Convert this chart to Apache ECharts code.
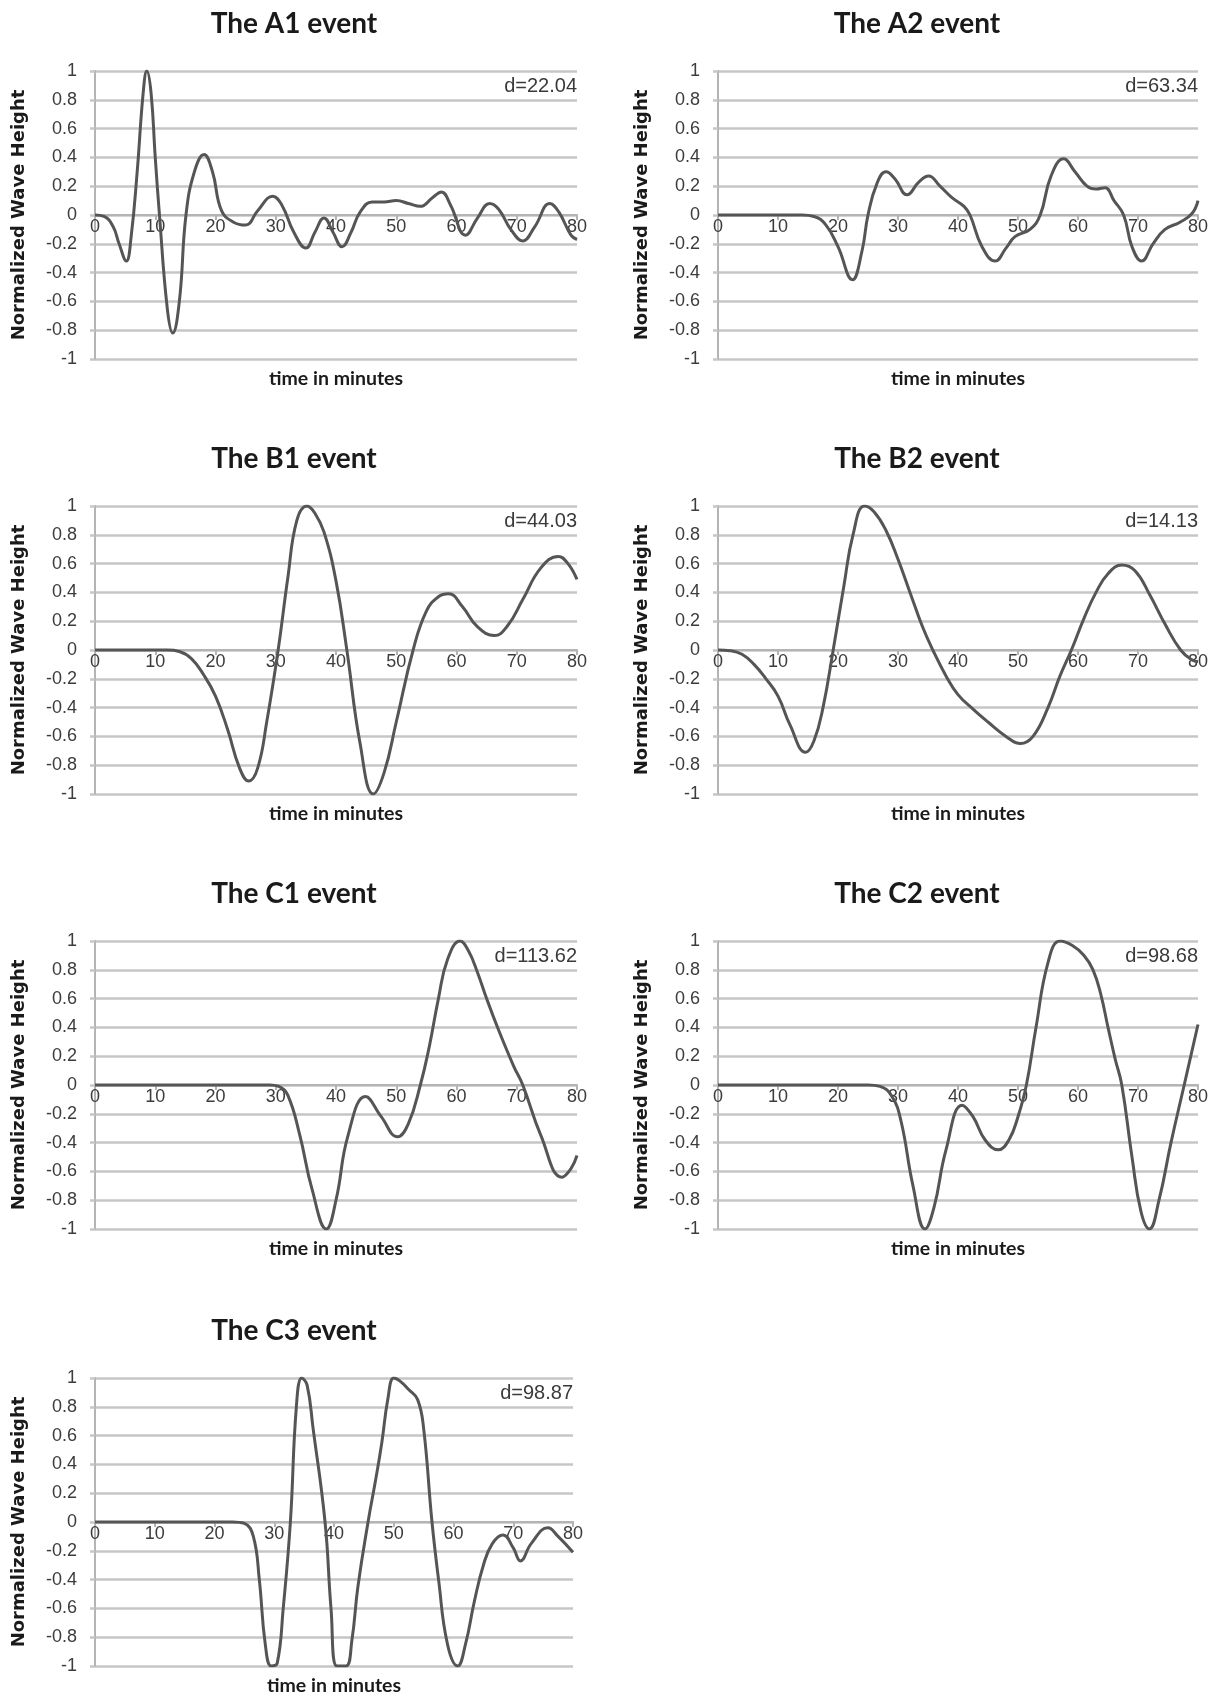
<!DOCTYPE html>
<html>
<head>
<meta charset="utf-8">
<script src="https://cdn.jsdelivr.net/npm/echarts@6/dist/echarts.min.js"></script>
<style>
html,body{margin:0;padding:0;background:#fff;}
#chart{width:1222px;height:1697px;}
</style>
</head>
<body>
<div id="chart"></div>
<script>
// ---- data: [time in minutes, normalized wave height] ----
const A1 = [[0,0],[1.5,-0.01],[3,-0.08],[4,-0.2],[5.2,-0.32],[6,-0.15],[7,0.3],[8,0.85],[8.6,1.0],[9.3,0.85],[10,0.4],[10.7,0],[12,-0.65],[12.9,-0.82],[14,-0.6],[15.1,0],[16.5,0.3],[18.1,0.42],[19.5,0.3],[21,0.03],[23,-0.05],[25,-0.07],[27,0.03],[29.5,0.13],[31,0.07],[33,-0.12],[35,-0.23],[36.5,-0.12],[38,-0.02],[39.5,-0.12],[41,-0.22],[42.5,-0.12],[44,0.02],[46,0.09],[48,0.09],[50,0.1],[52,0.08],[54,0.06],[56,0.12],[57.5,0.16],[59,0.07],[61.5,-0.14],[63.5,-0.02],[65.5,0.08],[67,0.04],[69,-0.1],[71,-0.18],[73,-0.08],[75.5,0.08],[77,0.02],[79,-0.14],[80,-0.17]];
const A2 = [[0,0],[14,0],[16,-0.01],[18,-0.07],[20,-0.22],[22.4,-0.45],[24,-0.25],[25,0],[26.5,0.22],[28,0.3],[29.5,0.25],[31.5,0.14],[33.5,0.23],[35.1,0.27],[37,0.2],[39,0.12],[41,0.06],[42,0],[44,-0.22],[46.2,-0.32],[48,-0.23],[49.5,-0.15],[52,-0.1],[53.7,0],[55.5,0.27],[57.6,0.39],[59.5,0.3],[61.5,0.2],[63,0.18],[64.5,0.19],[66,0.1],[67.6,0],[69,-0.22],[70.6,-0.32],[72.5,-0.2],[74.5,-0.1],[77,-0.05],[79,0.01],[80,0.1]];
const B1 = [[0,0],[12,0],[14,-0.01],[16,-0.06],[18,-0.17],[20,-0.32],[22,-0.55],[24,-0.82],[25.5,-0.91],[27,-0.82],[28.5,-0.5],[30.4,0],[32,0.5],[33.5,0.9],[35.2,1.0],[36.5,0.95],[38,0.82],[40,0.48],[41.8,0],[44,-0.65],[46.2,-1.0],[48,-0.85],[50,-0.5],[52.8,0],[55,0.27],[57,0.37],[58.7,0.39],[61,0.3],[63.5,0.16],[66.3,0.1],[68.5,0.17],[71,0.35],[74,0.57],[76.9,0.65],[78.5,0.6],[80,0.49]];
const B2 = [[0,0],[2,-0.005],[4,-0.03],[6,-0.1],[8,-0.2],[10,-0.32],[12,-0.52],[14.6,-0.71],[16,-0.63],[17.5,-0.4],[19.2,0],[21,0.45],[22.5,0.8],[24.4,1.0],[26,0.96],[28,0.83],[30,0.63],[32,0.4],[34,0.17],[35.8,0],[38,-0.18],[40,-0.31],[42.5,-0.41],[45,-0.5],[48,-0.6],[50.4,-0.65],[52.5,-0.6],[55,-0.4],[57,-0.18],[58.9,0],[61,0.22],[63,0.4],[65,0.53],[67.3,0.59],[69.5,0.55],[72,0.38],[74.5,0.18],[77.1,0],[79,-0.07],[80,-0.08]];
const C1 = [[0,0],[29,0],[30.5,-0.01],[32,-0.07],[34,-0.35],[36,-0.72],[38.4,-1.0],[40,-0.8],[42,-0.35],[44.9,-0.08],[47.5,-0.22],[50.2,-0.36],[52,-0.27],[54,0],[55.5,0.27],[57,0.6],[58.5,0.87],[60.6,1.0],[62,0.93],[63.5,0.78],[65,0.6],[67,0.38],[69.5,0.13],[71,0],[74,-0.35],[77.5,-0.64],[79,-0.58],[80,-0.49]];
const C2 = [[0,0],[25,0],[27,-0.01],[29,-0.08],[30.5,-0.25],[32.5,-0.7],[34.5,-1.0],[36,-0.85],[38,-0.45],[40.7,-0.14],[42.5,-0.22],[44.5,-0.38],[46.7,-0.45],[48.5,-0.38],[50,-0.22],[51.4,0],[53,0.4],[55,0.85],[57,1.0],[59,0.97],[61,0.9],[62.5,0.8],[63.8,0.63],[65,0.4],[66.2,0.18],[67.3,0],[69,-0.5],[70.5,-0.88],[71.9,-1.0],[73.5,-0.8],[75.5,-0.4],[77.7,0],[80,0.42]];
const C3 = [[0,0],[23,0],[25,-0.01],[26.5,-0.1],[27.5,-0.4],[28.5,-0.85],[29.5,-1.0],[30.5,-0.98],[31.5,-0.6],[32.7,0],[33.7,0.8],[34.6,1.0],[35.5,0.95],[36.5,0.65],[38.5,0],[39.5,-0.6],[40.5,-1.0],[42,-1.0],[43,-0.82],[44,-0.45],[45.7,0],[47,0.3],[48,0.55],[49,0.85],[50,1.0],[51,0.98],[52.5,0.92],[54,0.85],[55,0.65],[56.4,0],[57.5,-0.4],[59,-0.85],[60.7,-1.0],[62,-0.85],[63.5,-0.55],[65,-0.3],[66.5,-0.15],[68.3,-0.09],[70,-0.18],[71.2,-0.27],[73,-0.15],[75.8,-0.04],[77.5,-0.1],[80,-0.21]];

const eventNames = ['A1','A2','B1','B2','C1','C2','C3'];
const distances = ['d=22.04','d=63.34','d=44.03','d=14.13','d=113.62','d=98.68','d=98.87'];
const seriesData = [A1,A2,B1,B2,C1,C2,C3];
const xTicks = {min:0, max:80, interval:10};
const yTicks = {min:-1, max:1, interval:0.2};
const yAxisTitle = 'Normalized Wave Height';
const xAxisTitle = 'time in minutes';

// ---- layout ----
const colLeft = [95, 718];
const colWidth = [482, 480];
const rowTop = [71, 506, 941, 1378];
const plotH = 288;

const grids = [], xAxes = [], yAxes = [], series = [], graphics = [];
const LINE = '#555555', GRID = '#c6c6c6', AXIS = '#b4b4b4', TXT = '#3c3c3c';

seriesData.forEach((d, i) => {
  const col = i % 2, row = Math.floor(i / 2);
  const left = colLeft[col];
  const width = (i === 6) ? 478 : colWidth[col];
  const top = rowTop[row];
  grids.push({left: left, top: top, width: width, height: plotH, containLabel: false});
  xAxes.push({
    gridIndex: i, type: 'value', min: xTicks.min, max: xTicks.max, interval: xTicks.interval,
    position: 'bottom', offset: -plotH / 2,   // axis crosses at y = 0 (middle of symmetric -1..1 range)
    axisLine: {show: true, onZero: false, lineStyle: {color: AXIS, width: 2}},
    axisTick: {show: true, length: 5, lineStyle: {color: AXIS, width: 2}},
    axisLabel: {show: true, margin: 3, color: TXT, fontFamily: 'Liberation Sans', fontSize: 18,
      showMinLabel: true, showMaxLabel: true, hideOverlap: false},
    splitLine: {show: false}
  });
  yAxes.push({
    gridIndex: i, type: 'value', min: yTicks.min, max: yTicks.max, interval: yTicks.interval,
    position: 'left',
    axisLine: {show: true, onZero: false, lineStyle: {color: AXIS, width: 2}},
    axisTick: {show: true, length: 5, lineStyle: {color: GRID, width: 2.5}},
    axisLabel: {show: true, margin: 18, color: TXT, fontFamily: 'Liberation Sans', fontSize: 18,
      formatter: v => String(Math.round(v * 10) / 10)},
    splitLine: {show: true, lineStyle: {color: GRID, width: 2.5}}
  });
  series.push({
    type: 'line', xAxisIndex: i, yAxisIndex: i, data: d, smooth: 0.45,
    showSymbol: false, symbol: 'none', clip: true,
    lineStyle: {color: LINE, width: 3}, z: 5
  });
  graphics.push({type: 'text', x: left + 199, y: top - 47, z: 10,
    style: {text: 'The ' + eventNames[i] + ' event', fill: '#1a1a1a', font: 'bold 28px Lato',
      align: 'center', verticalAlign: 'middle'}});
  graphics.push({type: 'text', x: left + width, y: top + 15, z: 10,
    style: {text: distances[i], fill: '#3a3a3a', font: '20px "Liberation Sans"',
      align: 'right', verticalAlign: 'middle'}});
  graphics.push({type: 'text', x: left + width / 2, y: top + plotH + 20, z: 10,
    style: {text: xAxisTitle, fill: '#1a1a1a', font: 'bold 19.5px Lato',
      align: 'center', verticalAlign: 'middle'}});
  graphics.push({type: 'text', x: left - 76, y: top + plotH / 2, rotation: Math.PI / 2, z: 10,
    style: {text: yAxisTitle, fill: '#1a1a1a', font: 'bold 18px "DejaVu Sans"',
      align: 'center', verticalAlign: 'middle'}});
});

const chart = echarts.init(document.getElementById('chart'), null, {renderer: 'canvas'});
chart.setOption({
  animation: false,
  backgroundColor: '#ffffff',
  grid: grids, xAxis: xAxes, yAxis: yAxes, series: series, graphic: graphics
});
</script>
</body>
</html>
